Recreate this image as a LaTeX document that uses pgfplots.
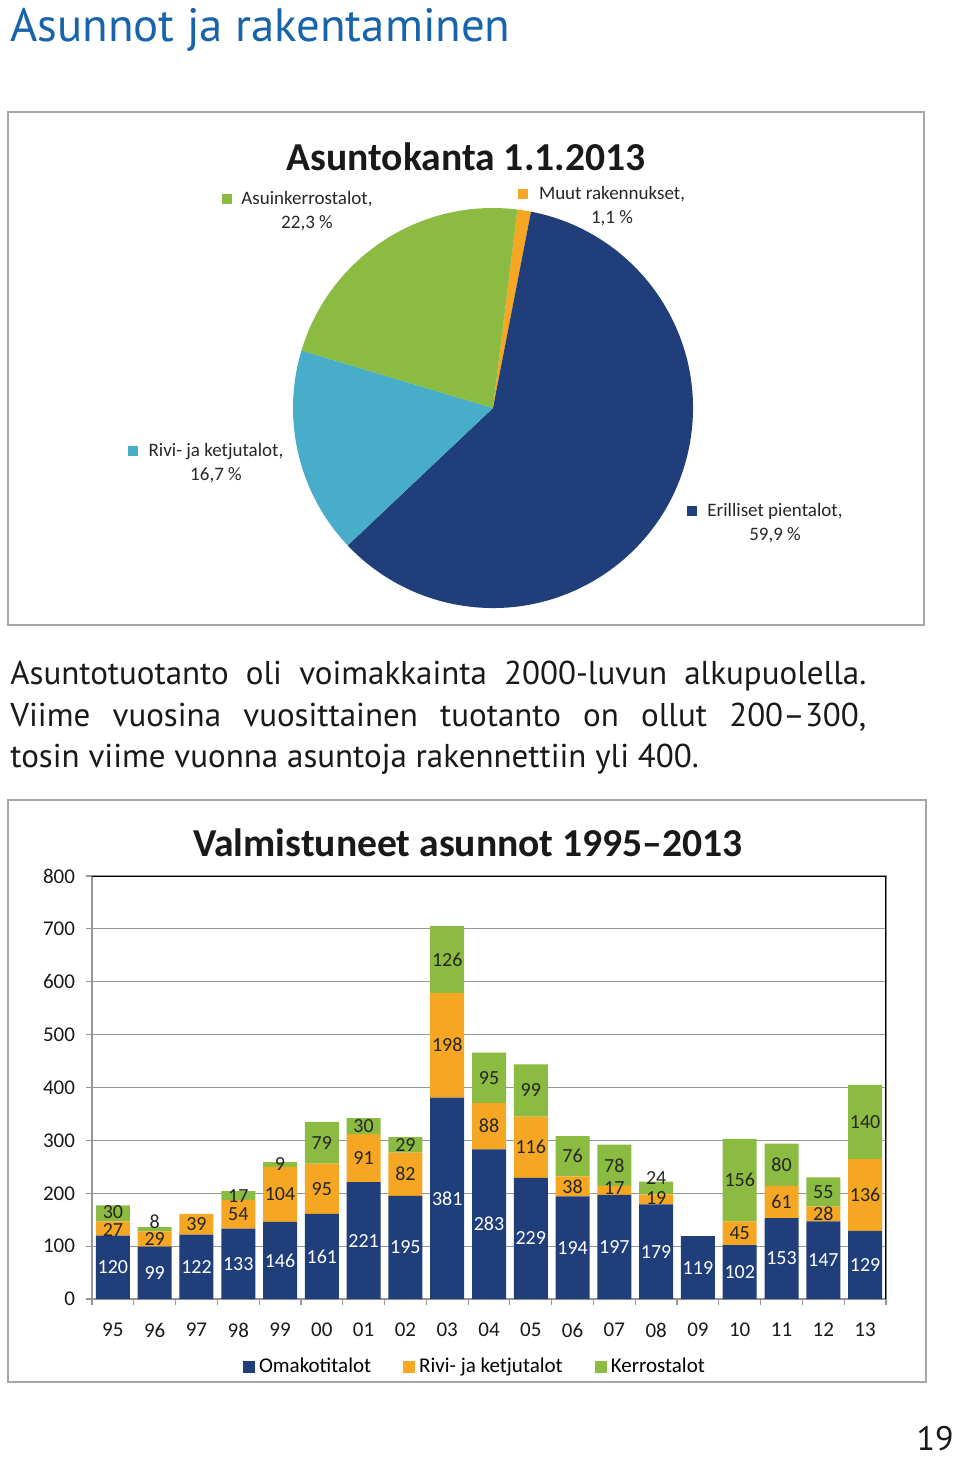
\documentclass[border=0pt]{standalone}
\usepackage{fontspec}
\setmainfont{Carlito}
\newfontfamily\ptsans[Ligatures=TeX]{PT Sans}
\usepackage{pgfplots}
\usepackage{pgfplotstable}
\pgfplotsset{compat=1.18}

\definecolor{cblue}{RGB}{31,62,122}
\definecolor{corange}{RGB}{245,166,35}
\definecolor{cgreen}{RGB}{139,187,64}
\definecolor{clight}{RGB}{72,173,200}
\definecolor{ctitle}{RGB}{24,100,172}
\definecolor{cframe}{RGB}{166,166,166}
\definecolor{cgrid}{RGB}{150,150,150}

% Asuntokanta 1.1.2013, % (Muut, Erilliset, Rivi, Kerros)
\pgfplotstableread{
val
1.1
59.9
16.7
22.3
}\piedata

% Valmistuneet asunnot 1995-2013 (ro, ko: label offsets, data units)
\pgfplotstableread{
x omak rivi kerr ro ko
0 120 27 30 -3 3
1 99 29 8 0 14
2 122 39 0 0 0
3 133 54 17 0 0
4 146 104 9 0 0
5 161 95 79 0 0
6 221 91 30 0 0
7 195 82 29 0 0
8 381 198 126 0 0
9 283 88 95 0 0
10 229 116 99 0 0
11 194 38 76 0 0
12 197 17 78 4 0
13 179 19 24 2 18
14 119 0 0 0 0
15 102 45 156 0 0
16 153 61 80 0 0
17 147 28 55 0 0
18 129 136 140 0 0
}\bardata

\begin{document}%
\pgfplotstablegetelem{0}{val}\of\piedata\let\vA\pgfplotsretval%
\pgfplotstablegetelem{1}{val}\of\piedata\let\vB\pgfplotsretval%
\pgfplotstablegetelem{2}{val}\of\piedata\let\vC\pgfplotsretval%
\pgfplotstablegetelem{3}{val}\of\piedata\let\vD\pgfplotsretval%
\pgfmathsetmacro\aA{83}%
\pgfmathsetmacro\aB{\aA-3.6*\vA}%
\pgfmathsetmacro\aC{\aB-3.6*\vB}%
\pgfmathsetmacro\aD{\aC-3.6*\vC}%
\pgfmathsetmacro\aE{\aD-3.6*\vD}%
\begin{tikzpicture}
\begin{scope}[x=0.5pt,y=-0.5pt]
  \path (0,0) rectangle (960,1458);
  \node[anchor=west, text=ctitle, inner sep=0pt,
        font=\ptsans\fontsize{23.4}{28}\selectfont] at (10,30) {Asunnot ja rakentaminen};
  % pie frame
  \draw[cframe, line width=0.8pt] (8,112) rectangle (924,625);
  \node[font=\bfseries\fontsize{19.8}{23}\selectfont, text=black!90] at (466,157) {Asuntokanta 1.1.2013};
  \begin{scope}[every node/.style={font=\fontsize{9.5}{12}\selectfont, align=center, text=black!85}]
    \node at (307,211) {Asuinkerrostalot,\\22,3 \%};
    \node at (612,206) {Muut rakennukset,\\1,1 \%};
    \node at (216,463) {Rivi- ja ketjutalot,\\16,7 \%};
    \node at (775,523) {Erilliset pientalot,\\59,9 \%};
  \end{scope}
  \fill[cgreen] (222,194) rectangle (232,204);
  \fill[corange] (518,189) rectangle (528,199);
  \fill[clight] (128,446) rectangle (138,456);
  \fill[cblue] (687,506) rectangle (697,516);
  % text
  \begin{scope}[every node/.style={anchor=base west, inner sep=0pt, text=black!90,
        font=\ptsans\fontsize{16.5}{20}\selectfont}]
    \node at (10,684) {\makebox[428pt][s]{Asuntotuotanto oli voimakkainta 2000-luvun alkupuolella.}};
    \node at (10,726) {\makebox[428pt][s]{Viime vuosina vuosittainen tuotanto on ollut 200–300,}};
    \node at (10,767) {tosin viime vuonna asuntoja rakennettiin yli 400.};
  \end{scope}
  % bar frame
  \draw[cframe, line width=0.8pt] (8,800) rectangle (926,1382);
  \node[font=\bfseries\fontsize{19.8}{23}\selectfont, text=black!90] at (468,843) {Valmistuneet asunnot 1995–2013};
  \node[anchor=east, inner sep=0pt, font=\ptsans\fontsize{17}{20}\selectfont, text=black!90] at (954,1439) {19};
\end{scope}

% pie
\begin{axis}[at={(246.5pt,-204pt)}, anchor=center, hide axis, scale only axis,
  width=200pt, height=200pt, xmin=-1, xmax=1, ymin=-1, ymax=1, clip=false]
  \fill[corange] (axis cs:0,0) -- ++(\aA:100pt) arc[start angle=\aA, end angle=\aB, radius=100pt] -- cycle;
  \fill[cblue]   (axis cs:0,0) -- ++(\aB:100pt) arc[start angle=\aB, end angle=\aC, radius=100pt] -- cycle;
  \fill[clight]  (axis cs:0,0) -- ++(\aC:100pt) arc[start angle=\aC, end angle=\aD, radius=100pt] -- cycle;
  \fill[cgreen]  (axis cs:0,0) -- ++(\aD:100pt) arc[start angle=\aD, end angle=\aE, radius=100pt] -- cycle;
\end{axis}

% stacked bars
\begin{axis}[at={(46pt,-649.5pt)}, anchor=south west, scale only axis,
  width=397pt, height=211.5pt,
  ybar stacked, bar width=17pt,
  xmin=-0.5, xmax=18.5, ymin=0, ymax=800,
  ytick={0,100,...,800},
  xtick={0,...,18},
  xticklabels={95,96,97,98,99,00,01,02,03,04,05,06,07,08,09,10,11,12,13},
  minor xtick={-0.5,0.5,...,18.5},
  tick align=outside, xtick pos=bottom, ytick pos=left,
  major tick length=3pt, minor tick length=3pt,
  major x tick style={draw=none},
  tick style={cgrid, line width=0.6pt},
  ymajorgrids, grid style={cgrid, line width=0.6pt},
  axis line style={cgrid, line width=0.6pt},
  /pgf/number format/assume math mode=true,
  tick label style={font=\fontsize{10.5}{12}\selectfont, text=black!90},
  xticklabel style={yshift=-5.5pt},
  yticklabel style={xshift=-2pt},
  legend style={at={(0.4836,-0.161)}, anchor=center, draw=none, fill=none,
    inner sep=1pt, legend columns=3, font=\fontsize{10.5}{12}\selectfont,
    /tikz/every even column/.append style={column sep=14pt}},
  legend image code/.code={\fill[#1] (0pt,-3pt) rectangle (6pt,3pt);},
]
  \addplot[fill=cblue, draw=none] table[x=x, y=omak] {\bardata};
  \addplot[fill=corange, draw=none] table[x=x, y=rivi] {\bardata};
  \addplot[fill=cgreen, draw=none] table[x=x, y=kerr] {\bardata};
  \legend{Omakotitalot, Rivi- ja ketjutalot, Kerrostalot}
  \draw[black, line width=0.6pt] (rel axis cs:0,1) -- (rel axis cs:1,1) -- (rel axis cs:1,0);
\end{axis}

% value labels
\begin{axis}[at={(46pt,-649.5pt)}, anchor=south west, scale only axis,
  width=397pt, height=211.5pt,
  xmin=-0.5, xmax=18.5, ymin=0, ymax=800, hide axis, clip=false,
  point meta=explicit symbolic,
  every node near coord/.append style={anchor=center, inner sep=0pt,
    font=\fontsize{10}{12}\selectfont},
]
  \addplot[draw=none, mark=none, nodes near coords,
    every node near coord/.append style={text=white}]
    table[x=x, y expr=\thisrow{omak}/2, meta=omak] {\bardata};
  \addplot[draw=none, mark=none, nodes near coords,
    every node near coord/.append style={text=black!85},
    restrict expr to domain={\thisrow{rivi}}{1:1000}]
    table[x=x, y expr=\thisrow{omak}+\thisrow{rivi}/2+\thisrow{ro}, meta=rivi] {\bardata};
  \addplot[draw=none, mark=none, nodes near coords,
    every node near coord/.append style={text=black!85},
    restrict expr to domain={\thisrow{kerr}}{1:1000}]
    table[x=x, y expr=\thisrow{omak}+\thisrow{rivi}+\thisrow{kerr}/2+\thisrow{ko}, meta=kerr] {\bardata};
\end{axis}
\end{tikzpicture}%
\end{document}
